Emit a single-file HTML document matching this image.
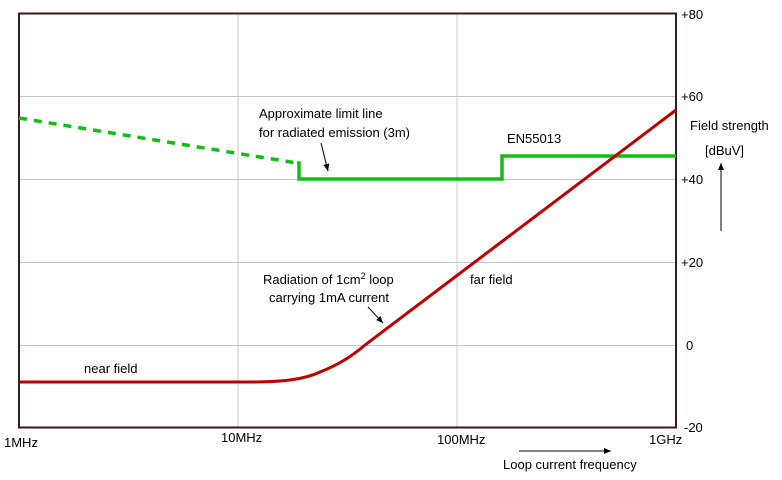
<!DOCTYPE html>
<html><head><meta charset="utf-8"><style>
html,body{margin:0;padding:0;background:#fff;}
svg{display:block;font-family:"Liberation Sans",Arial,sans-serif;}
</style></head><body>
<svg width="782" height="480" viewBox="0 0 782 480" xmlns="http://www.w3.org/2000/svg">
<defs><marker id="ah" markerWidth="8" markerHeight="8" refX="7" refY="3" orient="auto" markerUnits="userSpaceOnUse"><path d="M0,0 L7,3 L0,6 z" fill="#000"/></marker></defs>
<g stroke="#c8c8c8" stroke-width="1">
<line x1="238" y1="14" x2="238" y2="427"/>
<line x1="457" y1="14" x2="457" y2="427"/>
<line x1="19" y1="96.5" x2="676" y2="96.5"/>
<line x1="19" y1="179.5" x2="676" y2="179.5"/>
<line x1="19" y1="262.5" x2="676" y2="262.5"/>
<line x1="19" y1="345.5" x2="676" y2="345.5"/>
</g>
<rect x="19" y="13.5" width="657" height="414" fill="none" stroke="#3a1a1a" stroke-width="2"/>
<path d="M19,118 L297,163" stroke="#10c010" stroke-width="3.5" stroke-dasharray="8,7" fill="none"/>
<path d="M297,163 L299,163 L299,179 L502,179 L502,156 L676,156" stroke="#10c010" stroke-width="3.5" fill="none"/>
<path d="M19,382 L250,382 C285,382 305,379 320,372 C340,364 352,356 365,345 L676,110" stroke="#c00000" stroke-width="3" fill="none"/>
<g font-size="13" fill="#000">
<text x="681" y="19">+80</text>
<text x="681" y="101">+60</text>
<text x="681" y="184">+40</text>
<text x="681" y="267">+20</text>
<text x="686" y="350">0</text>
<text x="684" y="432">-20</text>
<text x="4" y="447">1MHz</text>
<text x="221" y="442">10MHz</text>
<text x="437" y="444">100MHz</text>
<text x="649" y="444">1GHz</text>
<text x="503" y="469">Loop current frequency</text>
<text x="690" y="130">Field strength</text>
<text x="705" y="155">[dBuV]</text>
<text x="259" y="118">Approximate limit line</text>
<text x="259" y="137">for radiated emission (3m)</text>
<text x="507" y="143">EN55013</text>
<text x="263" y="284">Radiation of 1cm<tspan dy="-5" font-size="9">2</tspan><tspan dy="5"> loop</tspan></text>
<text x="269" y="302">carrying 1mA current</text>
<text x="470" y="284">far field</text>
<text x="84" y="373">near field</text>
</g>
<g stroke="#000" stroke-width="1">
<line x1="321" y1="143" x2="328" y2="171" marker-end="url(#ah)"/>
<line x1="368" y1="307" x2="383" y2="323" marker-end="url(#ah)"/>
<line x1="519" y1="451" x2="611" y2="451" marker-end="url(#ah)"/>
<line x1="721" y1="231" x2="721" y2="163" marker-end="url(#ah)"/>
</g>
</svg>
</body></html>
